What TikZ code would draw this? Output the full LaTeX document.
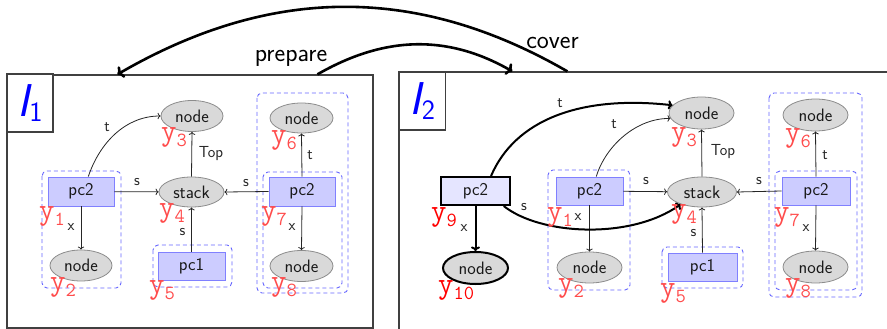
\documentclass[tikz,border=0pt]{standalone}
\usepackage{fontspec}
\usetikzlibrary{shapes.geometric,calc,arrows.meta}
\newcommand\setfs[1]{\fontsize{#1}{#1}\selectfont}
% variable name y_i set in typewriter with a lowered index
\newcommand\yv[1]{\ttfamily y\raisebox{-6pt}{\setfs{20}#1}}
% instance name I_i
\newcommand\instname[1]{\setfs{46}\sffamily\itshape I\raisebox{-5pt}{\setfs{28}\upshape #1}}
\begin{document}
\begin{tikzpicture}[x=1pt,y=-1pt,
  ell/.style={ellipse, draw=black!45, fill=black!15, line width=0.8pt, inner sep=0pt,
    text=black!90, font=\sffamily\setfs{18}},
  pcb/.style={rectangle, draw=blue!50, fill=blue!20, line width=0.9pt, inner sep=0pt,
    text=black!90, font=\sffamily\setfs{18}},
  grp/.style={draw=blue!60, dash pattern=on 4pt off 3pt, line width=0.9pt, rounded corners=5pt},
  ylab/.style={text=red!70, anchor=base west, inner sep=0pt, font=\setfs{30}},
  elab/.style={text=black!85, inner sep=0pt, font=\sffamily\setfs{16}},
  arr/.style={-{To[length=3pt,width=6.5pt]}, line width=0.8pt, draw=black!85},
  thk/.style={-{To[length=4.5pt,width=9pt]}, line width=2pt, draw=black},
  big/.style={-{To[length=6pt,width=13pt]}, line width=2.6pt, draw=black},
  frm/.style={rectangle, draw=black!75, line width=1.2pt, inner sep=0pt},
  ibox/.style={rectangle, draw=black!75, fill=white, line width=1.2pt, minimum width=46pt,
    minimum height=58pt, inner sep=0pt, text=blue},
  toplab/.style={inner sep=0pt, text=black, font=\sffamily\setfs{25.5}}]
\useasboundingbox (0,0) rectangle (887,329);

% ---------- frames ----------
\node[frm, minimum width=366pt, minimum height=253pt] (f1) at (190,201.5) {};
\node[frm, minimum width=501pt, minimum height=268pt] (f2) at (649.5,206) {};
\node[ibox] (i1) at (30,103) {\instname{1}};
\node[ibox] (i2) at (422.5,101) {\instname{2}};

% ---------- first instance ----------
\draw[grp] (42,171) rectangle (121,288);
\draw[grp] (153,245) rectangle (232,287);
\draw[grp] (257,93) rectangle (348,293);
\draw[grp] (263,172) rectangle (342,288);

\node[ell, minimum width=62pt, minimum height=31pt] (a3) at (192,116) {node};
\node[ell, minimum width=65pt, minimum height=30pt] (a4) at (191.5,192) {stack};
\node[pcb, minimum width=66pt, minimum height=29pt] (a1) at (81,191.5) {pc2};
\node[ell, minimum width=62pt, minimum height=31pt] (a2) at (81,265.5) {node};
\node[pcb, minimum width=67pt, minimum height=28pt] (a5) at (191.5,266) {pc1};
\node[ell, minimum width=63pt, minimum height=30pt] (a6) at (301.5,118) {node};
\node[pcb, minimum width=66pt, minimum height=29pt] (a7) at (302,191.5) {pc2};
\node[ell, minimum width=63pt, minimum height=31pt] (a8) at (301.5,266) {node};

\draw[arr] (a1) -- (a4);
\draw[arr] (a1.64) .. controls (100,142) and (126,116) .. (a3.west);
\draw[arr] (a1.south) -- (a2.north);
\draw[arr] (a4.north) -- (a3.south);
\draw[arr] (a5.north) -- (a4.south);
\draw[arr] (a7.west) -- (a4.east);
\draw[arr] (a7.north) -- (a6.south);
\draw[arr] (a7.south) -- (a8.north);

\node[elab] (ea1) at (137,182) {s};
\node[elab] (ea2) at (107,127) {t};
\node[elab] (ea3) at (71,227) {x};
\node[elab] (ea4) at (211,153.5) {Top};
\node[elab] (ea5) at (182.5,232) {s};
\node[elab] (ea6) at (246,183) {s};
\node[elab] (ea7) at (310,155) {t};
\node[elab] (ea8) at (292,227) {x};

\node[ylab] (ya1) at (39,219) {\yv{1}};
\node[ylab] (ya2) at (50,290) {\yv{2}};
\node[ylab] (ya3) at (161,140) {\yv{3}};
\node[ylab] (ya4) at (159,216) {\yv{4}};
\node[ylab] (ya5) at (149,293) {\yv{5}};
\node[ylab] (ya6) at (271,143) {\yv{6}};
\node[ylab] (ya7) at (261,219) {\yv{7}};
\node[ylab] (ya8) at (271,290) {\yv{8}};

% ---------- second instance ----------
\draw[grp] (548,170) rectangle (630,290);
\draw[grp] (662,247) rectangle (743,288);
\draw[grp] (769,93) rectangle (862,297);
\draw[grp] (775,171) rectangle (857,290);

\node[ell, minimum width=65pt, minimum height=32pt] (b3) at (701.5,113) {node};
\node[ell, minimum width=69pt, minimum height=30pt] (b4) at (702,192) {stack};
\node[pcb, minimum width=67pt, minimum height=28pt] (b1) at (589.5,191) {pc2};
\node[ell, minimum width=65pt, minimum height=31pt] (b2) at (589.5,267.5) {node};
\node[pcb, minimum width=69pt, minimum height=28pt] (b5) at (702.5,267) {pc1};
\node[ell, minimum width=65pt, minimum height=32pt] (b6) at (815.5,115) {node};
\node[pcb, minimum width=68pt, minimum height=28pt] (b7) at (816,191) {pc2};
\node[ell, minimum width=65pt, minimum height=32pt] (b8) at (815.5,267) {node};
\node[pcb, draw=black, fill=blue!10, line width=2pt, minimum width=69pt, minimum height=28pt] (b9) at (475.5,191) {pc2};
\node[ell, draw=black, line width=2pt, minimum width=65pt, minimum height=32pt] (b10) at (475.5,268) {node};

\draw[arr] (b1) -- (b4);
\draw[arr] (b1.65) .. controls (606,145) and (637,118) .. (b3.190);
\draw[arr] (b1.south) -- (b2.north);
\draw[arr] (b4.north) -- (b3.south);
\draw[arr] (b5.north) -- (b4.south);
\draw[arr] (b7.west) -- (b4.east);
\draw[arr] (b7.north) -- (b6.south);
\draw[arr] (b7.south) -- (b8.north);
\draw[thk] (b9.south) -- (b10.north);
\draw[thk] (b9.44) .. controls (515,120) and (580,95) .. (b3.165);
\draw[thk] (b9.-28) .. controls (540,235) and (630,240) .. (b4.210);

\node[elab] (eb1) at (646,181) {s};
\node[elab] (eb2) at (614,124) {t};
\node[elab] (eb3) at (578,217) {x};
\node[elab] (eb4) at (723,151.5) {Top};
\node[elab] (eb5) at (693.5,233) {s};
\node[elab] (eb6) at (759,181) {s};
\node[elab] (eb7) at (825,155) {t};
\node[elab] (eb8) at (806,228) {x};
\node[elab] (eb9) at (464,228) {x};
\node[elab] (eb10) at (560,103) {t};
\node[elab] (eb11) at (524,207) {s};

\node[ylab] (yb1) at (547,220) {\yv{1}};
\node[ylab] (yb2) at (558,291) {\yv{2}};
\node[ylab] (yb3) at (671,140) {\yv{3}};
\node[ylab] (yb4) at (671,217) {\yv{4}};
\node[ylab] (yb5) at (660,296) {\yv{5}};
\node[ylab] (yb6) at (785,141) {\yv{6}};
\node[ylab] (yb7) at (774,220) {\yv{7}};
\node[ylab] (yb8) at (785,291) {\yv{8}};
\node[ylab, text=red] (yb9) at (431,220) {\yv{9}};
\node[ylab, text=red] (yb10) at (438,293) {\yv{10}};

% ---------- transitions between the two instances ----------
\coordinate (pA) at ($(f1.north west)+(311,0)$);
\coordinate (pB) at ($(f2.north west)+(114,0)$);
\coordinate (cA) at ($(f2.north west)+(169,0)$);
\coordinate (cB) at ($(f1.north west)+(111,0)$);
\draw[big] (pA) .. controls (384,36) and (447,34) .. (pB);
\draw[big] (cA) .. controls (416,-16) and (270,-14) .. (cB);
\node[toplab] (lp) at (291,58) {prepare};
\node[toplab] (lc) at (552.5,42.5) {cover};
\end{tikzpicture}
\end{document}
